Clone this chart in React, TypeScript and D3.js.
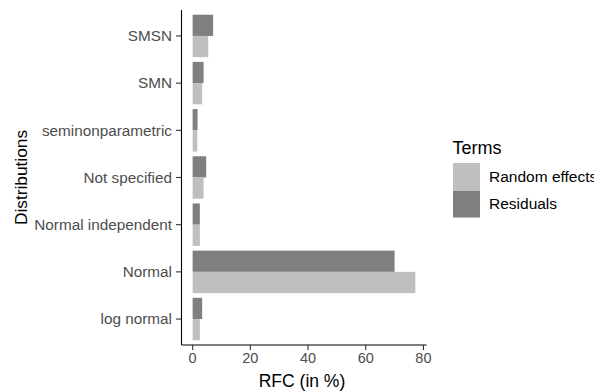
import React from 'react';
import * as d3 from 'd3';

const categories = ['log normal', 'Normal', 'Normal independent', 'Not specified', 'seminonparametric', 'SMN', 'SMSN'];
const randomEffects = [2.5, 77.2, 2.5, 3.8, 1.6, 3.3, 5.4];
const residuals = [3.3, 70, 2.5, 4.7, 1.7, 3.8, 7.1];
const terms = ['Random effects', 'Residuals'];
const termColors = ['#bfbfbf', '#7f7f7f'];
const xTicks = [0, 20, 40, 60, 80];

const W = 594;
const H = 391;
const panel = { left: 181.5, right: 426.5, top: 10, bottom: 345 };

export default function App() {
  const maxVal = d3.max(randomEffects.concat(residuals)) as number;
  const pad = maxVal * 0.05;
  const x = d3.scaleLinear()
    .domain([-pad, maxVal + pad])
    .range([panel.left, panel.right]);

  // categories bottom-to-top, like a flipped ggplot
  const y = d3.scaleBand()
    .domain(categories.slice().reverse())
    .range([panel.top, panel.bottom])
    .paddingOuter(0.1)
    .paddingInner(0.1);
  const step = y.step();
  const barW = step * 0.9;

  const label = '#4d4d4d';
  const font = '"Liberation Sans", Arial, sans-serif';

  return (
    <svg width={W} height={H} style={{ position: 'absolute', left: 0, top: 0 }} fontFamily={font}>
      <rect width={W} height={H} fill="#fff" />
      {categories.map((c, i) => {
        const cy = (y(c) as number) + y.bandwidth() / 2;
        const top = cy - barW / 2;
        return (
          <g key={c}>
            <rect x={x(0)} y={top} width={x(residuals[i]) - x(0)} height={barW / 2} fill={termColors[1]} />
            <rect x={x(0)} y={cy} width={x(randomEffects[i]) - x(0)} height={barW / 2} fill={termColors[0]} />
            <line x1={panel.left - 5.5} x2={panel.left} y1={cy} y2={cy} stroke="#333" strokeWidth={1.1} />
            <text x={panel.left - 9.5} y={cy} dy="0.35em" textAnchor="end" fontSize={15.3} fill={label}>{c}</text>
          </g>
        );
      })}
      <line x1={panel.left} x2={panel.left} y1={panel.top} y2={panel.bottom} stroke="#000" strokeWidth={1.1} />
      <line x1={panel.left} x2={panel.right} y1={panel.bottom} y2={panel.bottom} stroke="#000" strokeWidth={1.1} />
      {xTicks.map(t => (
        <g key={t}>
          <line x1={x(t)} x2={x(t)} y1={panel.bottom} y2={panel.bottom + 5} stroke="#333" strokeWidth={1.1} />
          <text x={x(t)} y={panel.bottom + 18} textAnchor="middle" fontSize={14.5} fill={label}>{t}</text>
        </g>
      ))}
      <text x={(panel.left + panel.right) / 2 - 2} y={386.5} textAnchor="middle" fontSize={17.5} fill="#000">RFC (in %)</text>
      <text transform={`translate(26.5,${(panel.top + panel.bottom) / 2}) rotate(-90)`} textAnchor="middle" fontSize={17.3} fill="#000">Distributions</text>

      <text x={452.5} y={153.5} fontSize={18} fill="#000">Terms</text>
      {terms.map((t, i) => (
        <g key={t}>
          <rect x={453} y={163 + i * 27.5} width={27} height={27} fill={termColors[i]} />
          <text x={489} y={163 + i * 27.5 + 13.5} dy="0.35em" fontSize={15.5} fill="#000">{t}</text>
        </g>
      ))}
    </svg>
  );
}
